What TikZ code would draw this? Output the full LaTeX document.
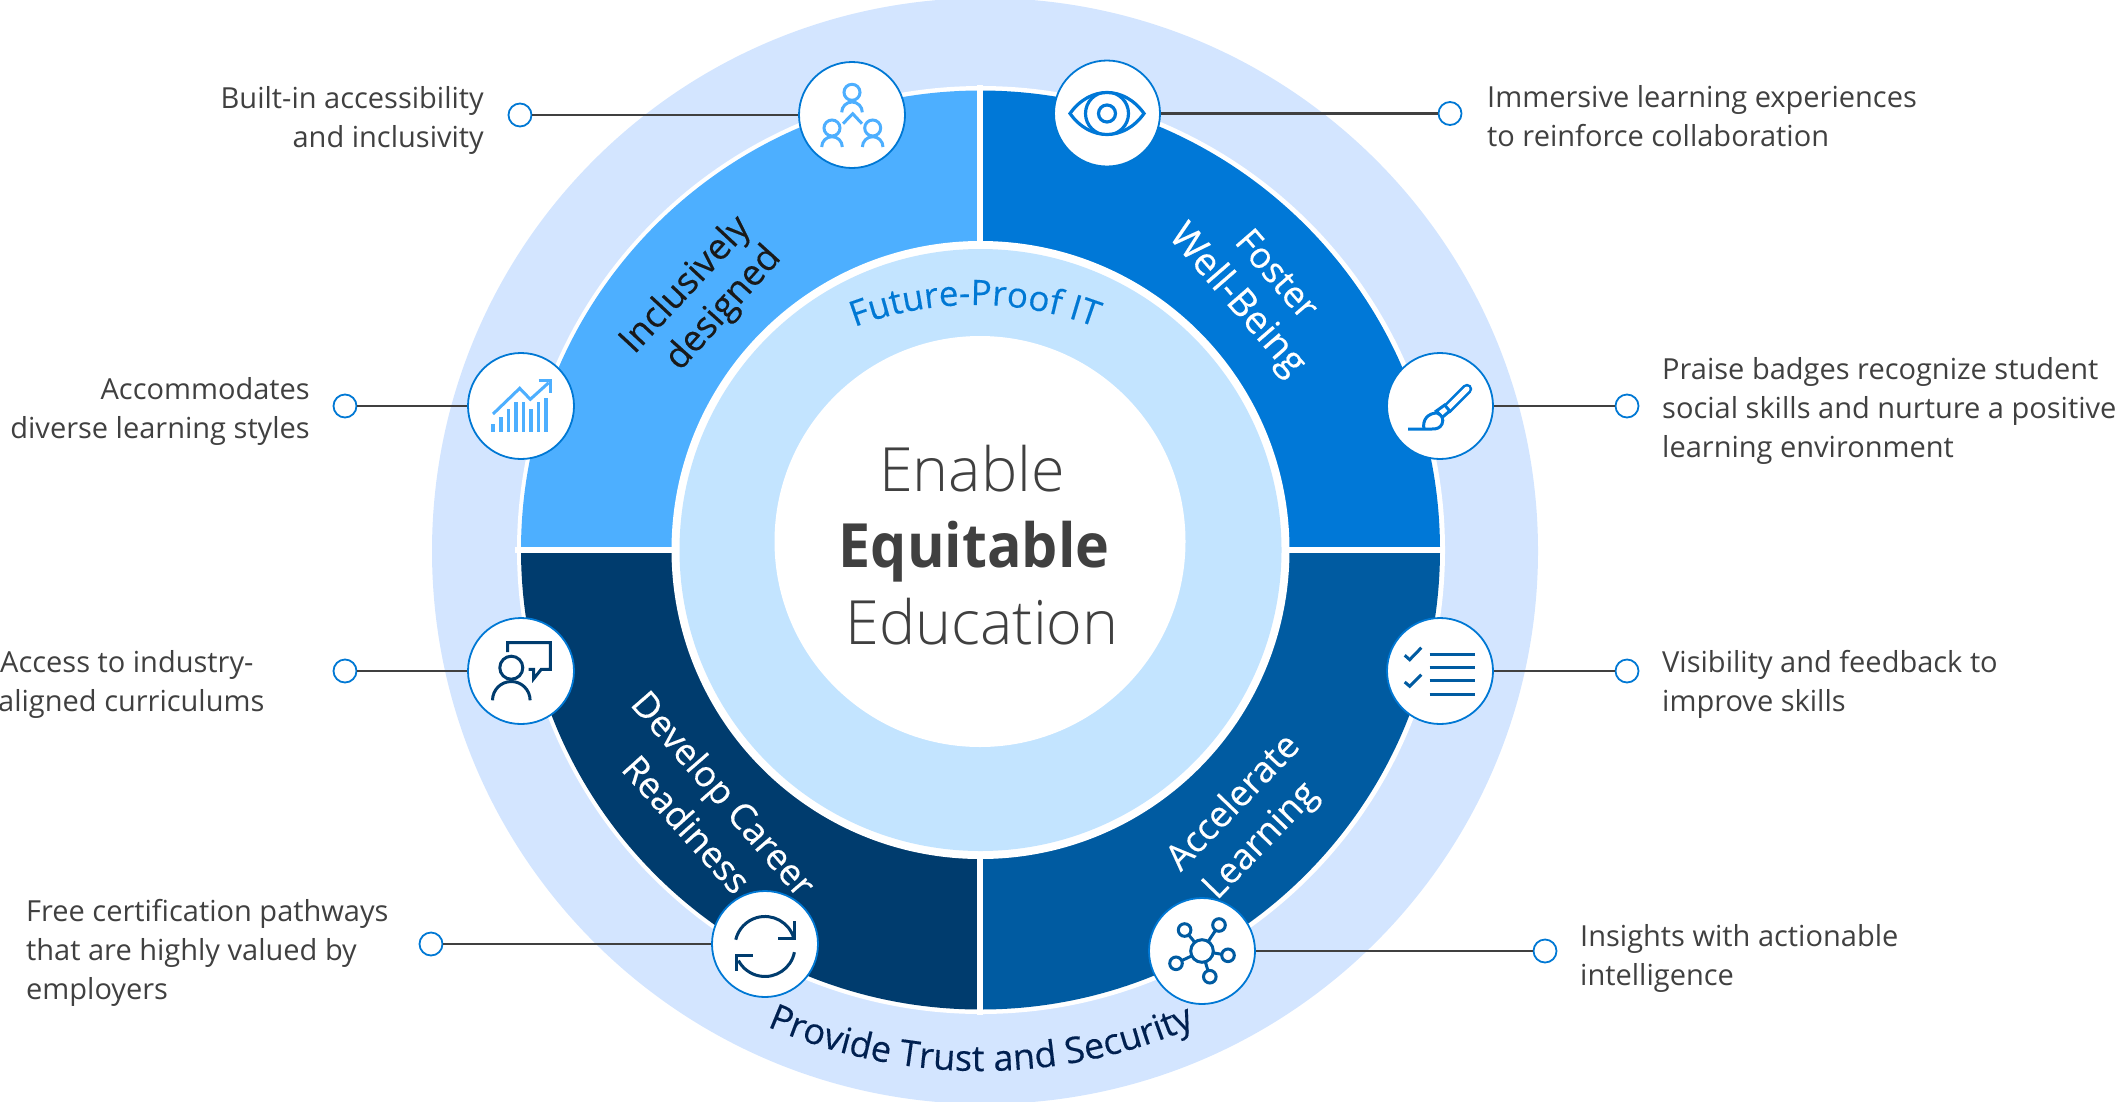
\documentclass[tikz,border=0pt]{standalone}
\usepackage{fontspec}
\usetikzlibrary{decorations.text,calc}
\setmainfont{Open Sans}
\newfontfamily\oslight{Open Sans Light}
\newfontfamily\osmid[FakeBold=0.3]{Open Sans}
\newcommand{\osbold}{\bfseries\addfontfeatures{FakeStretch=0.94}}
\newcommand{\fslab}{\fontsize{29}{39}\selectfont}
\newcommand{\fssec}{\osmid\fontsize{36}{40}\selectfont}
\newcommand{\fsfut}{\osmid\fontsize{35}{40}\selectfont}
\newcommand{\fspro}{\osmid\fontsize{36}{40}\selectfont}
\newcommand{\fsbig}{\fontsize{61}{76.5}\selectfont}
\definecolor{pale}{HTML}{D3E5FF}
\definecolor{disc}{HTML}{C3E4FF}
\definecolor{secA}{HTML}{4DAFFF}
\definecolor{secB}{HTML}{0078D7}
\definecolor{secC}{HTML}{005BA1}
\definecolor{secD}{HTML}{003C6E}
\definecolor{txt}{HTML}{404040}
\definecolor{ring}{HTML}{0078D4}
\definecolor{navy}{HTML}{002050}
\tikzset{
  x=1pt,y=-1pt,
  iconring/.style={circle,draw=ring,line width=1.8pt,fill=white,minimum size=106pt,inner sep=0pt},
  enddot/.style={circle,draw=ring,line width=1.8pt,fill=white,minimum size=23pt,inner sep=0pt},
  lead/.style={draw=txt,line width=2.2pt},
  lab/.style={font=\fslab,text=txt,inner sep=0pt,align=left,anchor=base west},
  labr/.style={font=\fslab,text=txt,inner sep=0pt,align=right,anchor=base east},
  sec/.style={font=\fssec,inner sep=0pt,anchor=base},
  bigtxt/.style={font=\fsbig,text=txt,inner sep=0pt,anchor=base},
  glyph/.style={line width=2.8pt,line cap=butt,line join=miter}
}
\begin{document}
\begin{tikzpicture}
\useasboundingbox (0,0) rectangle (2119,1101);
% rings
\fill[pale] (985,551) circle[radius=553pt];
\fill[white] (981,550) circle[radius=464pt];
\coordinate (o) at (980.5,550);
\fill[secA] (o) -- ++(-459.5pt,0pt) arc[start angle=180,end angle=90,radius=459.5pt] -- cycle;
\fill[secB] (o) -- ++(0pt,459.5pt) arc[start angle=90,end angle=0,radius=459.5pt] -- cycle;
\fill[secC] (o) -- ++(459.5pt,0pt) arc[start angle=0,end angle=-90,radius=459.5pt] -- cycle;
\fill[secD] (o) -- ++(0pt,-459.5pt) arc[start angle=-90,end angle=-180,radius=459.5pt] -- cycle;
\draw[white,line width=5.5pt] (980,85) -- (980,1015);
\draw[white,line width=6pt] (515,550) -- (1445,550);
\fill[white] (o) circle[radius=309pt];
\fill[disc] (o) circle[radius=301pt];
\fill[white] (980,541.5) circle[radius=205.5pt];
% centre text
\node[bigtxt] (c1) at (972,491) {\oslight Enable};
\node[bigtxt] (c2) at (974,567) {\osbold Equitable};
\node[bigtxt] (c3) at (982,644) {\oslight Education};
% arc labels
\coordinate (fs) at ($(975,645)+(115:340pt)$);
\path[decorate,decoration={text along path,text align=center,
  text={|\fsfut\color{ring}|Future-Proof IT}}] (fs) arc[start angle=115,end angle=65,radius=340pt];
\coordinate (ps) at ($(981,535)+(240:536pt)$);
\path[decorate,decoration={text along path,text align=center,
  text={|\fspro\color{navy}|Provide Trust and Security}}] (ps) arc[start angle=240,end angle=300,radius=536pt];
% sector labels
\node[sec,text=black!90,rotate=47] (s1) at (693,292) {Inclusively};
\node[sec,text=black!90,rotate=48] (s2) at (731,315) {designed};
\node[sec,text=white,rotate=-49] (s3) at (1268,282) {Foster};
\node[sec,text=white,rotate=-49] (s4) at (1229,307) {\fontsize{38}{40}\selectfont Well-Being};
\node[sec,text=white,rotate=-49] (s5) at (714,802) {Develop Career};
\node[sec,text=white,rotate=-48] (s6) at (677,833) {Readiness};
\node[sec,text=white,rotate=46] (s7) at (1241,810) {Accelerate};
\node[sec,text=white,rotate=46] (s8) at (1268,848) {Learning};
% icons & end dots
\node[iconring] (i1) at (852,115) {};
\node[iconring] (i2) at (1107,113.5) {};
\node[iconring] (i3) at (521,406) {};
\node[iconring] (i4) at (1440,406) {};
\node[iconring] (i5) at (521,671) {};
\node[iconring] (i6) at (1440,671) {};
\node[iconring] (i7) at (765,944) {};
\node[iconring] (i8) at (1202,951) {};
\node[enddot] (d1) at (520,115) {};
\node[enddot] (d2) at (1450,113.5) {};
\node[enddot] (d3) at (345,406) {};
\node[enddot] (d4) at (1627,406) {};
\node[enddot] (d5) at (345,671) {};
\node[enddot] (d6) at (1627,671) {};
\node[enddot] (d7) at (431,944) {};
\node[enddot] (d8) at (1545,951) {};
\draw[lead] (i1) -- (d1);
\draw[lead] (i2) -- (d2);
\draw[lead] (i3) -- (d3);
\draw[lead] (i4) -- (d4);
\draw[lead] (i5) -- (d5);
\draw[lead] (i6) -- (d6);
\draw[lead] (i7) -- (d7);
\draw[lead] (i8) -- (d8);
% texts
\node[labr] (t1) at (484,147) {Built-in accessibility\\and inclusivity};
\node[labr] (t3) at (310,438) {Accommodates\\diverse learning styles};
\node[lab] (t5) at (-2,711) {\hspace{2pt}Access to industry-\\aligned curriculums};
\node[lab] (t7) at (26,999) {Free certification pathways\\that are highly valued by\\employers};
\node[lab] (t2) at (1487,146) {Immersive learning experiences\\to reinforce collaboration};
\node[lab] (t4) at (1662,457) {Praise badges recognize student\\social skills and nurture a positive\\learning environment};
\node[lab] (t6) at (1662,711) {Visibility and feedback to\\improve skills};
\node[lab] (t8) at (1580,985) {Insights with actionable\\intelligence};
% people
\begin{scope}[shift={(852,115)},glyph,draw=secA,line width=3pt]
  \draw (0,-22.7) circle[radius=8pt];
  \draw (-10.3,-2.7) arc[start angle=180,end angle=0,radius=10.3pt];
  \draw (-20,13) circle[radius=8pt];
  \draw (-30.3,32) arc[start angle=180,end angle=0,radius=10.3pt];
  \draw (20.7,13) circle[radius=8pt];
  \draw (10.4,32) arc[start angle=180,end angle=0,radius=10.3pt];
  \draw (-9,8.7) -- (0.7,-1.3) -- (10,8.7);
\end{scope}
% eye
\begin{scope}[shift={(1107,113.5)},glyph,draw=secB,line width=3.2pt]
  \draw (-37,0) .. controls (-17,-28) and (17,-28) .. (37,0) .. controls (17,28) and (-17,28) .. (-37,0) -- cycle;
  \begin{scope}
    \clip (-37,0) .. controls (-17,-28) and (17,-28) .. (37,0) .. controls (17,28) and (-17,28) .. (-37,0) -- cycle;
    \draw (0,0) circle[radius=21.5pt];
  \end{scope}
  \draw (0,0) circle[radius=8.5pt];
\end{scope}
% chart
\begin{scope}[shift={(521,406)},glyph,draw=secA,line width=3.2pt]
  \foreach \px/\py in {-28/18,-20/10.7,-12.3/3.3,-5/-4.3,2.7/-4.3,10/3.3,17.7/-4.3,25/-7.7}
    \draw (\px,25.7) -- (\px,\py);
  \draw[line width=3pt] (-28,8) -- (-1.3,-17.7) -- (9.3,-6.7) -- (27.7,-23.3);
  \draw[line width=3pt] (17.7,-25.3) -- (29.3,-25.3) -- (29.3,-13.3);
\end{scope}
% person + bubble
\begin{scope}[shift={(521,671)},glyph,draw=secD,line width=3pt]
  \draw (-9.7,-3.3) circle[radius=11.5pt];
  \draw (-28.5,29.3) arc[start angle=180,end angle=0,radius=18.8pt];
  \draw (-13.3,-19) -- (-13.3,-28.3) -- (29.3,-28.3) -- (29.3,-1.7) -- (20.3,-1.7) -- (12.7,7.7) -- (12.7,-1.7) -- (7.7,-1.7);
\end{scope}
% brush
\begin{scope}[shift={(1440,406)},glyph,draw=secB,line width=3pt]
  \draw[line width=10.5pt,line cap=round] (27,-17) -- (7,3);
  \draw[white,line width=5pt,line cap=round] (27,-17) -- (7,3);
  \draw[fill=white] (4.7,-1) -- (9.7,5) -- (2.3,11.3) -- (-3.7,5) -- cycle;
  \draw[fill=white] (-32,23) -- (-16,23) .. controls (-18,14) and (-12,7) .. (-3,7)
     .. controls (2,9) and (4,13) .. (2,18) .. controls (0,22) and (-3,23) .. (-8,23) -- (-16,23);
\end{scope}
% list
\begin{scope}[shift={(1440,671)},glyph,draw=secC,line width=3pt]
  \foreach \ly in {-17,-3.3,9.7,23.3} \draw (-10.3,\ly) -- (34.7,\ly);
  \draw (-35.3,-15.7) -- (-30.3,-11.3) -- (-18.7,-23.3);
  \draw (-35.3,11) -- (-30.3,15.3) -- (-18.7,3.7);
\end{scope}
% refresh
\begin{scope}[shift={(765,944)},glyph,draw=secD,line width=3pt]
  \draw (28.8,-5.8) arc[start angle=16,end angle=167,radius=30pt];
  \draw (13,-6) -- (29.6,-6) -- (29.6,-22.7);
  \draw (29.4,8.2) arc[start angle=-11,end angle=-152,radius=30pt];
  \draw (-12.4,11.7) -- (-29,11.7) -- (-29,27.3);
\end{scope}
% network
\begin{scope}[shift={(1202,951)},glyph,draw=secC,line width=3pt]
  \foreach \nx/\ny in {-17.4/-21,17/-26,26/4.3,7.8/25.7,-26/12.3} {
    \draw (0,0) -- (\nx,\ny);
    \draw[fill=white] (\nx,\ny) circle[radius=6.3pt];
  }
  \draw[fill=white] (0,0) circle[radius=11.3pt];
\end{scope}
\end{tikzpicture}
\end{document}
